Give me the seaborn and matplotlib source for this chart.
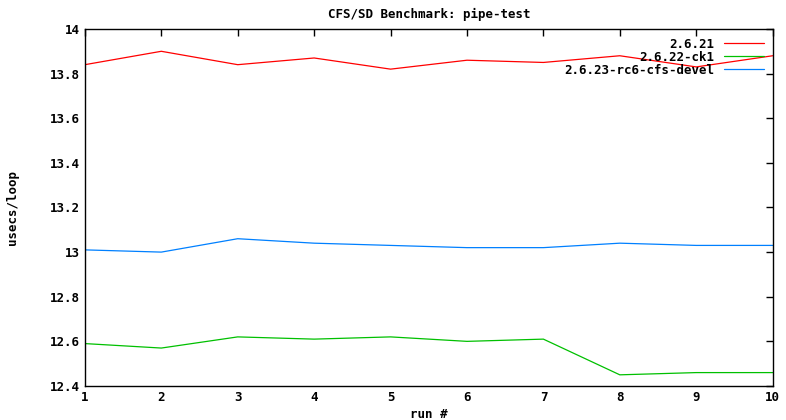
import matplotlib
matplotlib.use("Agg")
import matplotlib.pyplot as plt
import matplotlib.ticker as mticker
import pandas as pd
import seaborn as sns

runs = [1, 2, 3, 4, 5, 6, 7, 8, 9, 10]
k2621 = [13.84, 13.90, 13.84, 13.87, 13.82, 13.86, 13.85, 13.88, 13.83, 13.88]
k2622 = [12.59, 12.57, 12.62, 12.61, 12.62, 12.60, 12.61, 12.45, 12.46, 12.46]
k2623 = [13.01, 13.00, 13.06, 13.04, 13.03, 13.02, 13.02, 13.04, 13.03, 13.03]
names = ["2.6.21", "2.6.22-ck1", "2.6.23-rc6-cfs-devel"]
colors = ["#ff0000", "#00c000", "#0080ff"]

df = pd.DataFrame({
    "run": runs * 3,
    "usecs": k2621 + k2622 + k2623,
    "kernel": [names[0]] * 10 + [names[1]] * 10 + [names[2]] * 10,
})

sns.set_style("white")
plt.rcParams["font.family"] = ["DejaVu Sans Mono"]
plt.rcParams["font.weight"] = "bold"
plt.rcParams["text.color"] = "black"
plt.rcParams["axes.labelcolor"] = "black"

fig = plt.figure(figsize=(7.86, 4.2), dpi=100)
ax = fig.add_axes([0.108, 0.081, 0.875, 0.850])

sns.lineplot(data=df, x="run", y="usecs", hue="kernel", palette=colors,
             linewidth=0.9, ax=ax)

ax.set_xlim(1, 10)
ax.set_ylim(12.4, 14)
ax.set_xticks(runs)
ax.set_yticks([12.4, 12.6, 12.8, 13.0, 13.2, 13.4, 13.6, 13.8, 14.0])
ax.yaxis.set_major_formatter(mticker.FormatStrFormatter("%g"))
ax.tick_params(direction="in", top=True, right=True, length=5, width=1,
               labelsize=9, colors="black")
for s in ax.spines.values():
    s.set_color("black")
    s.set_linewidth(1)

ax.set_title("CFS/SD Benchmark: pipe-test", fontsize=9, fontweight="bold",
             color="black", pad=8)
ax.set_xlabel("run #", fontsize=9, fontweight="bold", labelpad=3)
ax.set_ylabel("usecs/loop", fontsize=9, fontweight="bold", labelpad=22)

leg = ax.legend(loc="upper right", frameon=False, markerfirst=False,
                fontsize=9, handlelength=3.2, labelspacing=0.0,
                borderaxespad=0.3, handletextpad=0.8)
for t in leg.get_texts():
    t.set_ha("right")
    t.set_color("black")

fig.savefig("out.png", dpi=100)
